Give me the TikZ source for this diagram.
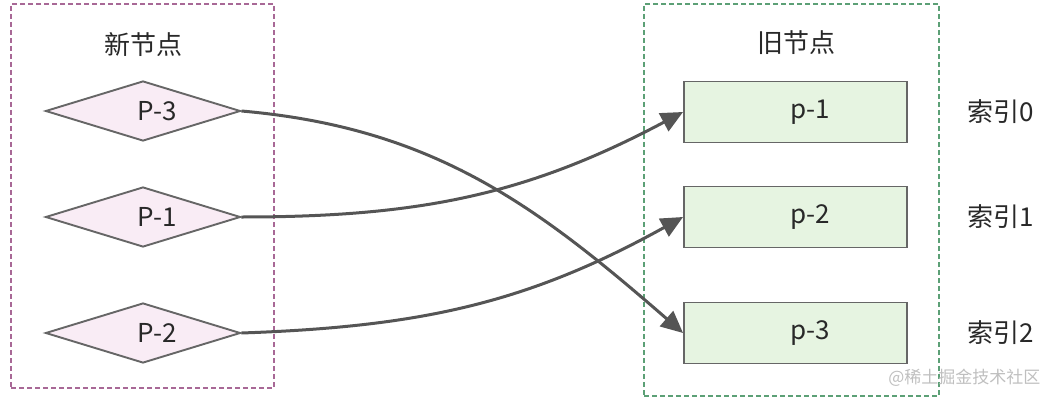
\documentclass[tikz,border=0pt]{standalone}
\usepackage{fontspec}
\setmainfont{Noto Sans CJK SC}
\usetikzlibrary{arrows.meta,positioning,shapes.geometric}
\definecolor{nodegray}{RGB}{102,102,102}
\definecolor{textdark}{RGB}{40,40,40}
\definecolor{newpink}{RGB}{249,236,245}
\definecolor{oldgreen}{RGB}{230,244,225}
\definecolor{grppurple}{RGB}{168,104,150}
\definecolor{grpgreen}{RGB}{92,160,118}
\definecolor{linkgray}{RGB}{85,85,85}

\begin{document}
\begin{tikzpicture}[x=1pt,y=-1pt,
    newnode/.style={diamond,draw=nodegray,fill=newpink,line width=1.9pt,aspect=3.25,
      inner sep=0pt,minimum width=195pt,minimum height=60pt,font=\fontsize{26}{26}\selectfont,text=textdark},
    oldnode/.style={rectangle,draw=nodegray,fill=oldgreen,line width=1.9pt,
      minimum width=223pt,minimum height=61pt,font=\fontsize{26}{26}\selectfont,text=textdark},
    grpbox/.style={rectangle,dash pattern=on 5pt off 3pt,line width=1.5pt,inner sep=0pt},
    grptitle/.style={font=\fontsize{26}{26}\selectfont,text=textdark},
    link/.style={draw=linkgray,line width=3pt,-{Triangle[length=22pt,width=20pt]}}]
    \useasboundingbox (0,0) rectangle (1056,401);
    % groups
    \node[grpbox,draw=grppurple,minimum width=263pt,minimum height=384pt] (newgrp) at (142.5,196) {};
    \node[grpbox,draw=grpgreen,minimum width=295pt,minimum height=392pt] (oldgrp) at (791.5,200) {};
    \node[grptitle] (newtitle) at (143,45) {新节点};
    \node[grptitle] (oldtitle) at (796,43) {旧节点};
    % new nodes
    \foreach \i/\y in {3/111,1/217,2/333}
      \node[newnode] (n\i) at (143,\y) {\hspace*{28pt}P-\i};
    % old nodes and their index
    \foreach \i/\y/\k in {1/112/0,2/217/1,3/333/2} {
      \node[oldnode] (o\i) at (795.5,\y) {\hspace*{30pt}p-\i};
      \node[grptitle,anchor=west] (idx\k) at (964,\y) {索引\k};
    }
    % links
    \draw[link] (n3.east) to[out=-5,in=139] (o3.west);
    \draw[link] (n1.east) to[out=0,in=208] (o1.west);
    \draw[link] (n2.east) to[out=2,in=209] (o2.west);
    \node[font=\fontsize{17}{17}\selectfont,text=black!25,anchor=east] (mark) at (1044,378) {@稀土掘金技术社区};
\end{tikzpicture}
\end{document}
